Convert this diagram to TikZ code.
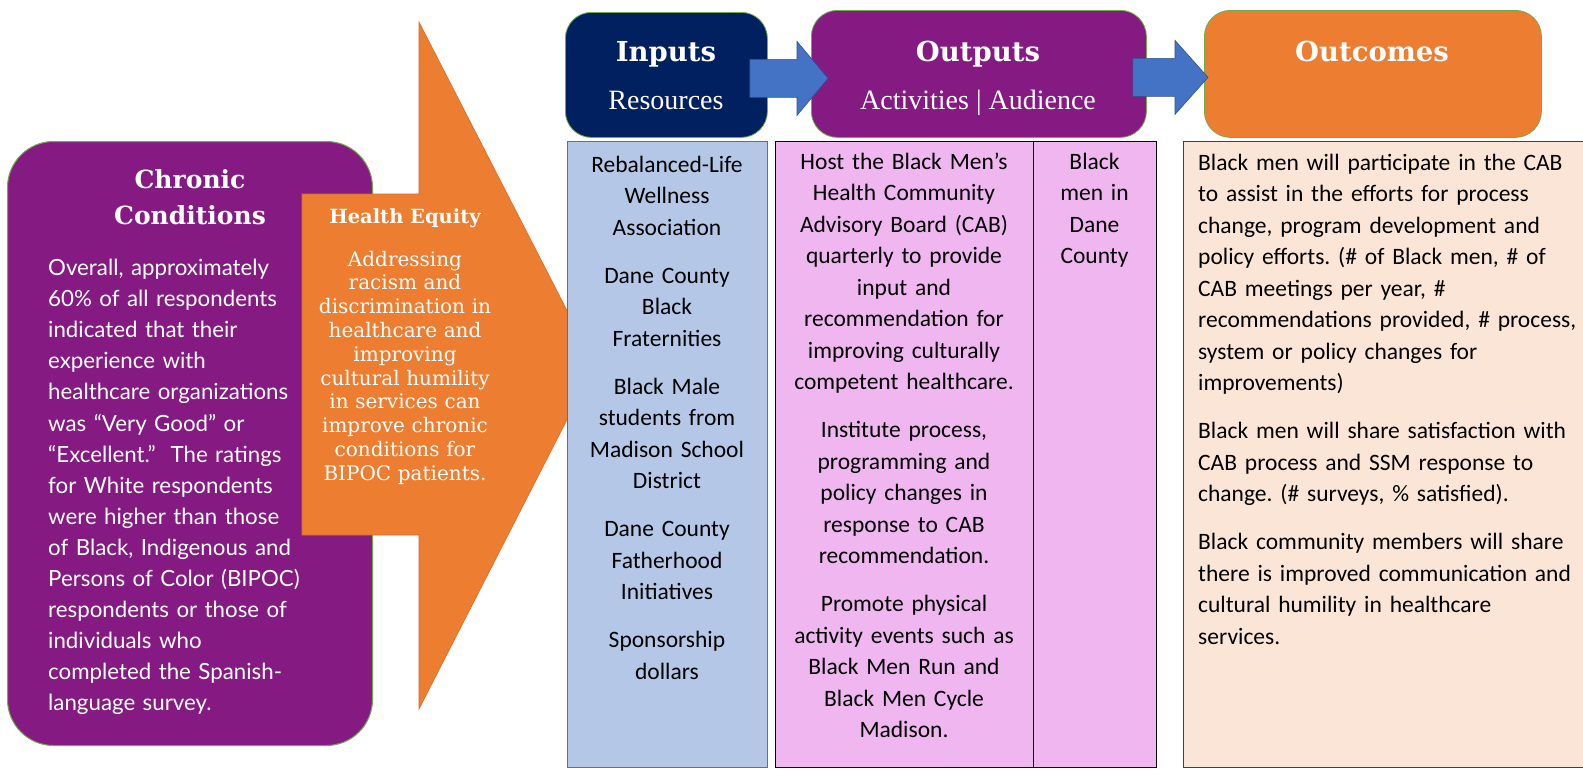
\documentclass[tikz,border=0pt]{standalone}
\usepackage{fontspec}
\setmainfont{Carlito}
\newfontfamily\headfont{DejaVu Serif}
\newfontfamily\subfont{Liberation Serif}
\newfontfamily\chronfont{Lato}
\usetikzlibrary{calc}
\frenchspacing
\definecolor{cpurple}{RGB}{134,26,131}
\definecolor{cnavy}{RGB}{0,32,96}
\definecolor{corange}{RGB}{237,125,49}
\definecolor{corangedk}{RGB}{214,110,40}
\definecolor{cblue}{RGB}{68,114,196}
\definecolor{cbluedk}{RGB}{47,82,143}
\definecolor{cltblue}{RGB}{180,199,231}
\definecolor{cpink}{RGB}{239,182,239}
\definecolor{cpeach}{RGB}{251,229,214}
\definecolor{cgreen}{RGB}{112,173,71}
\tikzset{
  topbox/.style={draw=cgreen, line width=0.8pt, rounded corners=26pt, anchor=north west, inner sep=0pt},
  lowbox/.style={anchor=north west, inner sep=0pt, line width=1pt},
  heading/.style={font=\headfont\bfseries\fontsize{27.5}{33}\selectfont, text=white, inner sep=0pt, anchor=base},
  subhead/.style={font=\subfont\fontsize{28}{33}\selectfont, text=white, inner sep=0pt, anchor=base},
  bodytxt/.style={font=\fontsize{23.5}{31.5}\selectfont, text=black, inner sep=0pt, anchor=base, text width=320pt, align=center},
  blockarrow/.style={fill=cblue, draw=cbluedk, line width=0.6pt},
}
\begin{document}
\begin{tikzpicture}[x=1pt,y=-1pt]
\useasboundingbox (0,0) rectangle (1583,771);
\fill[white] (0,0) rectangle (1583,771);

% ---------- Chronic Conditions ----------
\node[topbox, rounded corners=46pt, fill=cpurple, line width=1pt, minimum width=365pt, minimum height=604pt] (chronic) at (7,141) {};
\node[font=\headfont\bfseries\fontsize{25}{36}\selectfont, text=white, inner sep=0pt, anchor=base, text width=340pt, align=center] (chrontitle) at (190,188) {Chronic\\Conditions};
\node[font=\chronfont\fontsize{22.3}{31.1}\selectfont, text=white, inner sep=0pt, anchor=base west, text width=330pt, align=left] (chronbody) at (48,275.5) {Overall, approximately\\60\% of all respondents\\indicated that their\\experience with\\healthcare organizations\\was “Very Good” or\\“Excellent.”~ The ratings\\for White respondents\\were higher than those\\of Black, Indigenous and\\Persons of Color (BIPOC)\\respondents or those of\\individuals who\\completed the Spanish-\\language survey.};

% ---------- Health Equity arrow ----------
\fill[corange, draw=corangedk, line width=0.6pt] (302,194) -- (419,194) -- (419,22) -- (595,365) -- (419,709) -- (419,535) -- (302,535) -- cycle;
\node[font=\headfont\bfseries\fontsize{19.5}{22}\selectfont, text=white, inner sep=0pt, anchor=base] (eqtitle) at (405,223) {Health Equity};
\node[font=\headfont\fontsize{20}{23.8}\selectfont, text=white, inner sep=0pt, anchor=base, text width=260pt, align=center] (eqbody) at (405,266) {Addressing\\racism and\\discrimination in\\healthcare and\\improving\\cultural humility\\in services can\\improve chronic\\conditions for\\BIPOC patients.};

% ---------- Top boxes ----------
\node[topbox, fill=cnavy, minimum width=202pt, minimum height=125pt] (inputs) at (565,12) {};
\node[topbox, fill=cpurple, minimum width=335pt, minimum height=127pt] (outputs) at (811,10) {};
\node[topbox, fill=corange, minimum width=337pt, minimum height=127pt] (outcomes) at (1204,10) {};

\node[heading] (inputstitle) at (666,61) {Inputs};
\node[subhead] (inputssub) at (666,109.5) {Resources};
\node[heading] (outputstitle) at (978,61) {Outputs};
\node[subhead] (outputssub) at (978,109.5) {Activities | Audience};
\node[heading] (outcomestitle) at (1372,61) {Outcomes};

% ---------- Block arrows between top boxes ----------
\path[blockarrow] let \p1=([xshift=-18pt,yshift=-3.5pt]inputs.east), \p2=([xshift=17pt,yshift=-3.5pt]outputs.west) in
  (\x1,{\y1+19pt}) -- ({\x2-31pt},{\y1+19pt}) -- ({\x2-31pt},{\y1+37pt}) -- (\x2,\y1) -- ({\x2-31pt},{\y1-37pt}) -- ({\x2-31pt},{\y1-19pt}) -- (\x1,{\y1-19pt}) -- cycle;
\path[blockarrow] let \p1=([xshift=-14pt,yshift=-3.5pt]outputs.east), \p2=([xshift=4pt,yshift=-3.5pt]outcomes.west) in
  (\x1,{\y1+19pt}) -- ({\x2-33pt},{\y1+19pt}) -- ({\x2-33pt},{\y1+37pt}) -- (\x2,\y1) -- ({\x2-33pt},{\y1-37pt}) -- ({\x2-33pt},{\y1-19pt}) -- (\x1,{\y1-19pt}) -- cycle;

% ---------- Lower boxes ----------
\node[lowbox, draw=cblue, fill=cltblue, minimum width=200pt, minimum height=626pt] (resbox) at (567,141) {};
\node[lowbox, draw=black, fill=cpink, line width=1.3pt, minimum width=258pt, minimum height=626pt] (actbox) at (775,141) {};
\node[lowbox, draw=black, fill=cpink, line width=1.3pt, minimum width=123pt, minimum height=626pt] (audbox) at (1033,141) {};
\node[lowbox, draw=black!75, fill=cpeach, minimum width=420pt, minimum height=626pt] (outbox) at (1183,141) {};

\node[bodytxt] (restext) at (667,172) {Rebalanced-Life\\Wellness\\Association\\[16.5pt]Dane County\\Black\\Fraternities\\[16.5pt]Black Male\\students from\\Madison School\\District\\[16.5pt]Dane County\\Fatherhood\\Initiatives\\[16.5pt]Sponsorship\\dollars};

\node[bodytxt] (acttext) at (904,169) {Host the Black Men’s\\Health Community\\Advisory Board (CAB)\\quarterly to provide\\input and\\recommendation for\\improving culturally\\competent healthcare.\\[16.5pt]Institute process,\\programming and\\policy changes in\\response to CAB\\recommendation.\\[16.5pt]Promote physical\\activity events such as\\Black Men Run and\\Black Men Cycle\\Madison.};

\node[bodytxt] (audtext) at (1094.5,169) {Black\\men in\\Dane\\County};

\node[bodytxt, anchor=base west, text width=385pt, align=left] (outtext) at (1198,170) {Black men will participate in the CAB\\to assist in the efforts for process\\change, program development and\\policy efforts. (\# of Black men, \# of\\CAB meetings per year, \#\\recommendations provided, \# process,\\system or policy changes for\\improvements)\\[16.5pt]Black men will share satisfaction with\\CAB process and SSM response to\\change. (\# surveys, \% satisfied).\\[16.5pt]Black community members will share\\there is improved communication and\\cultural humility in healthcare\\services.};
\end{tikzpicture}
\end{document}
